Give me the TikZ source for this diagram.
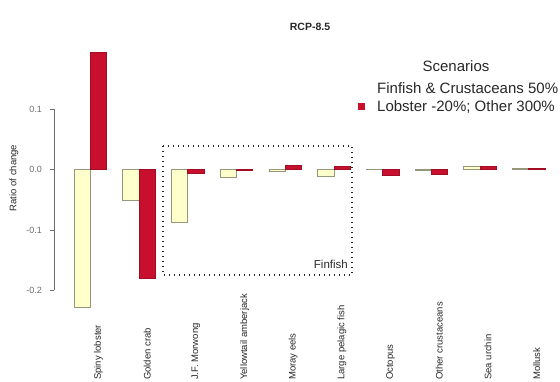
\documentclass[tikz,border=0pt]{standalone}
\usepackage{fontspec}
\setmainfont{Liberation Sans}
\definecolor{barred}{RGB}{200,16,46}
\definecolor{barcream}{RGB}{255,255,204}
\definecolor{creamedge}{RGB}{150,150,120}
\definecolor{axisgray}{RGB}{110,110,110}
\definecolor{txt}{RGB}{40,40,40}
\tikzset{
  creambar/.style={fill=barcream,draw=creamedge,line width=0.6pt},
  redbar/.style={fill=barred,draw=barred!80!black,line width=0.6pt},
  spec/.style={rotate=90,anchor=west,inner sep=0pt,font=\fontsize{9.5}{10}\selectfont,text=txt},
  ticklab/.style={anchor=east,inner sep=0pt,font=\fontsize{9}{10}\selectfont,text=axisgray},
  legtxt/.style={anchor=west,inner sep=0pt,font=\fontsize{15}{16}\selectfont,text=txt},
  dotbox/.style={line width=1.2pt,dash pattern=on 1.2pt off 3.8pt,draw=black!85}
}
\begin{document}
\begin{tikzpicture}[x=1pt,y=-1pt]
\useasboundingbox (0,0) rectangle (560,382);
\fill[white] (0,0) rectangle (560,382);
% title
\node[font=\bfseries\fontsize{10.5}{12}\selectfont,text=txt] (title) at (310,27) {RCP-8.5};
% y axis
\coordinate (ytop) at (54,109);
\coordinate (ybot) at (54,290);
\draw[axisgray,line width=0.6pt] (ytop) -- (ybot);
\foreach \v/\yy/\nm in {0.1/109/a,0.0/169.5/b,-0.1/230/c,-0.2/290/d}{
  \coordinate (t\nm) at (54,\yy);
  \coordinate (u\nm) at (50,\yy);
  \draw[axisgray,line width=0.6pt] (t\nm) -- (u\nm);
  \node[ticklab] (lab\nm) at (42,\yy) {\v};
}
\node[rotate=90,font=\fontsize{9.5}{10}\selectfont,text=txt] (ylab) at (14,178) {Ratio of change};
% bars: index/cream end/red end/label
\foreach \i/\c/\r/\name in {
  0/307/52/Spiny lobster,
  1/200.5/278/Golden crab,
  2/222/173/J.F. Morwong,
  3/177.5/170.4/Yellowtail amberjack,
  4/171.5/165.5/Moray eels,
  5/176.7/166.7/Large pelagic fish,
  6/169.0/175/Octopus,
  7/170.3/174/Other crustaceans,
  8/166/166.3/Sea urchin,
  9/168.8/168.8/Mollusk}{
  \pgfmathsetmacro{\xa}{74+48.7*\i}
  \pgfmathsetmacro{\xb}{\xa+16.3}
  \pgfmathsetmacro{\xc}{\xb+16.3}
  \pgfmathsetmacro{\xl}{\xb+8.15}
  \draw[creambar] (\xa,169.5) rectangle (\xb,\c);
  \draw[redbar] (\xb,169.5) rectangle (\xc,\r);
  \node[spec] (sp\i) at (\xl,380) {\name};
}
% finfish box
\draw[dotbox] (163,146) rectangle (352,275);
\node[anchor=east,inner sep=0pt,font=\fontsize{11.5}{12}\selectfont,text=txt] (fin) at (348,264) {Finfish};
% legend
\node[font=\fontsize{15}{16}\selectfont,text=txt] (legtitle) at (456,66) {Scenarios};
\node[legtxt] (leg1) at (377,88) {Finfish \& Crustaceans 50\%};
\node[legtxt] (leg2) at (377,107) {Lobster -20\%; Other 300\%};
\fill[barred] (357.5,103.5) rectangle (364.5,110.5);
\end{tikzpicture}
\end{document}
